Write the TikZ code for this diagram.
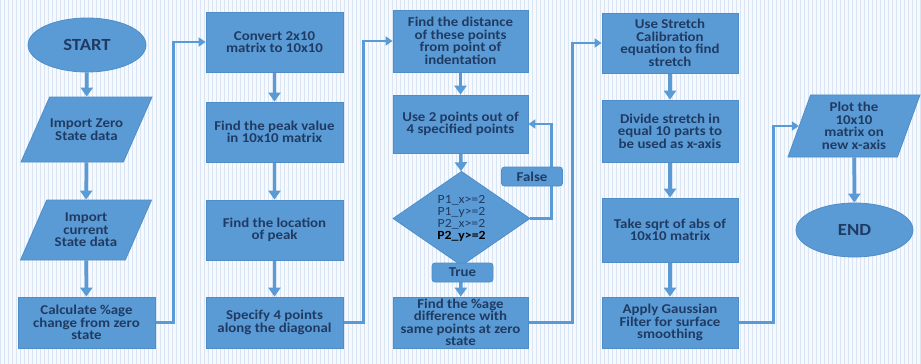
\documentclass[tikz,border=0pt]{standalone}
\usepackage{fontspec}
\setmainfont{Carlito}[FakeStretch=1.1]
\usepackage{tikz}
\usetikzlibrary{shapes.geometric}
\usetikzlibrary{arrows.meta}
\definecolor{boxblue}{HTML}{5B9BD5}
\definecolor{boxedge}{HTML}{4F8DC8}
\definecolor{inkblue}{HTML}{1F3B63}
\definecolor{paper}{HTML}{F6F9FD}
\definecolor{gridblue}{HTML}{D9E5F2}
\pgfdeclarelayer{gridlayer}
\pgfdeclarelayer{edgelayer}
\pgfdeclarelayer{nodelayer}
\pgfsetlayers{gridlayer,edgelayer,nodelayer,main}
\tikzstyle{boxtext}=[text=inkblue,font=\bfseries\fontsize{13.5}{12.5}\selectfont,align=center]
\tikzstyle{terminal}=[ellipse,fill=boxblue,draw=boxedge,line width=0.8pt,inner sep=0pt,text=inkblue,font=\bfseries\fontsize{17}{18}\selectfont]
\tikzstyle{process}=[rectangle,fill=boxblue,draw=boxedge,line width=0.8pt,minimum width=137pt,inner sep=0pt,boxtext]
\tikzstyle{io}=[trapezium,trapezium left angle=66,trapezium right angle=114,trapezium stretches body=true,fill=boxblue,draw=boxedge,line width=0.8pt,inner xsep=0pt,boxtext]
\tikzstyle{decision}=[diamond,fill=boxblue,draw=boxedge,line width=0.8pt,inner sep=0pt,minimum width=137pt,minimum height=77pt,text=inkblue,font=\fontsize{12.5}{12}\selectfont,align=center]
\tikzstyle{tag}=[rectangle,rounded corners=3pt,fill=boxblue,draw=boxedge,line width=0.8pt,minimum width=61pt,minimum height=19pt,inner sep=0pt,boxtext]
\tikzstyle{flow}=[draw=boxblue,line width=3.5pt,-{Triangle[width=12pt,length=9pt]}]
\tikzstyle{link}=[draw=boxblue,line width=2.5pt,-{Triangle[width=9pt,length=7pt]}]
\tikzstyle{gridline}=[draw=gridblue,line width=0.5pt]

\begin{document}
\begin{tikzpicture}[x=1pt,y=-1pt]
					\useasboundingbox (0,0) rectangle (921,364);
					\begin{pgfonlayer}{gridlayer}
						\fill [paper] (0,0) rectangle (921,364);
						\draw [style=gridline,step=4] (0,0) grid (921,364);
					\end{pgfonlayer}
					\begin{pgfonlayer}{nodelayer}
						\node [style=terminal,minimum width=118pt,minimum height=54pt] (0) at (87,45) {START};
						\node [style=io,inner ysep=21.5pt,minimum width=131pt,minimum height=65pt] (1) at (86.5,129.5) {Import Zero\\State data};
						\node [style=io,inner ysep=12.5pt,minimum width=131pt,minimum height=60pt] (2) at (86,230) {Import\\current\\State data};
						\node [style=process,minimum height=51pt] (3) at (86.5,322.5) {Calculate \%age\\change from zero\\state};
						\node [style=process,minimum height=60pt] (4) at (274.5,42) {Convert 2x10\\matrix to 10x10};
						\node [style=process,minimum height=60pt] (5) at (274.5,132) {Find the peak value\\in 10x10 matrix};
						\node [style=process,minimum height=60pt] (6) at (274.5,230) {Find the location\\of peak};
						\node [style=process,minimum height=51pt] (7) at (274.5,322.5) {Specify 4 points\\along the diagonal};
						\node [style=process,minimum width=135pt,minimum height=62pt] (8) at (460.5,41) {Find the distance\\of these points\\from point of\\indentation};
						\node [style=process,minimum width=135pt,minimum height=58pt] (9) at (460.5,124) {Use 2 points out of\\4 specified points};
						\node [style=decision] (10) at (461.5,218.5) {P1\_x>=2\\P1\_y>=2\\P2\_x>=2\\{\bfseries\color{black}P2\_y>=2}};
						\node [style=tag] (11) at (532,176.5) {False};
						\node [style=tag] (12) at (462.5,272.5) {True};
						\node [style=process,minimum width=135pt,minimum height=51pt] (13) at (460.5,322.5) {Find the \%age\\difference with\\same points at zero\\state};
						\node [style=process,minimum width=136pt,minimum height=60pt] (14) at (670,43) {Use Stretch\\Calibration\\equation to find\\stretch};
						\node [style=process,minimum width=136pt,minimum height=62pt] (15) at (670,131) {Divide stretch in\\equal 10 parts to\\be used as x-axis};
						\node [style=process,minimum width=136pt,minimum height=64pt] (16) at (670,230) {Take sqrt of abs of\\10x10 matrix};
						\node [style=process,minimum width=136pt,minimum height=51pt] (17) at (670,322.5) {Apply Gaussian\\Filter for surface\\smoothing};
						\node [style=io,trapezium left angle=70,trapezium right angle=110,inner ysep=7.5pt,minimum width=132pt,minimum height=62pt] (18) at (854,126) {Plot the\\10x10\\matrix on\\new x-axis};
						\node [style=terminal,minimum width=117pt,minimum height=54pt] (19) at (854.5,230) {END};
					\end{pgfonlayer}
					\begin{pgfonlayer}{edgelayer}
						\draw [style=flow] (0) -- (1);
						\draw [style=flow] (1) -- (2);
						\draw [style=flow] (2) -- (3);
						\draw [style=link] (3.east) -- ++(18,0) |- (4.west);
						\draw [style=flow] (4) -- (5);
						\draw [style=flow] (5) -- (6);
						\draw [style=flow] (6) -- (7);
						\draw [style=link] (7.east) -- ++(20,0) |- (8.west);
						\draw [style=flow] (8) -- (9);
						\draw [style=flow] (9) -- (10);
						\draw [style=link] (10.east) -- ++(21,0) |- (9.east);
						\draw [style=flow] (10) -- (13);
						\draw [style=link] (13.east) -- ++(44,0) |- (14.west);
						\draw [style=flow] (14) -- (15);
						\draw [style=flow] (15) -- (16);
						\draw [style=flow] (16) -- (17);
						\draw [style=link] (17.east) -- ++(35,0) |- (18.west);
						\draw [style=flow] (18) -- (19);
					\end{pgfonlayer}
				\end{tikzpicture}
\end{document}
